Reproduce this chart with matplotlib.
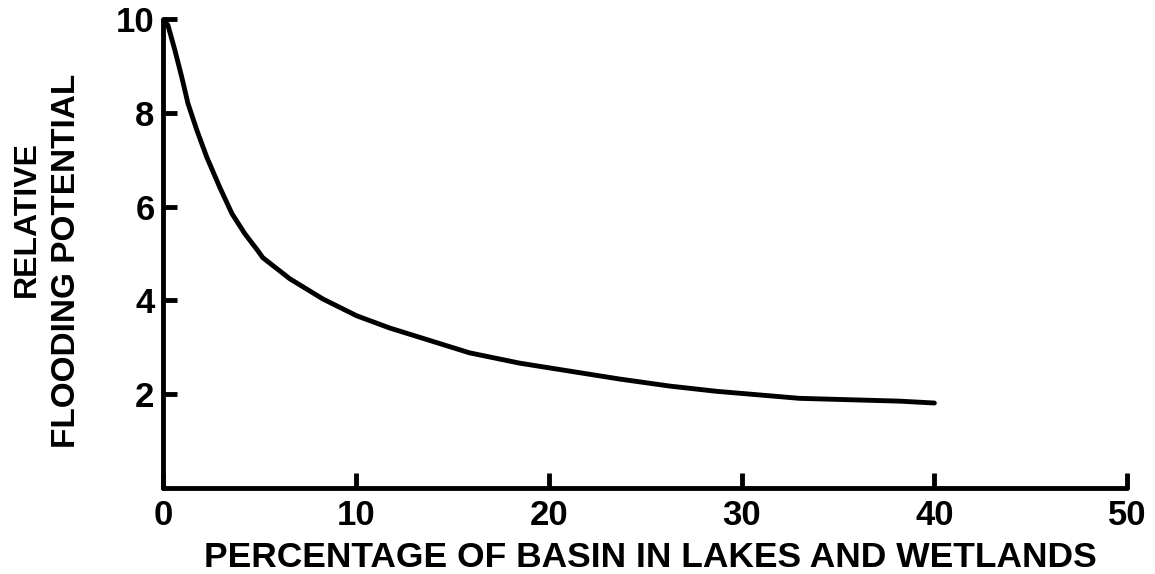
import matplotlib
matplotlib.use("Agg")
import matplotlib.pyplot as plt

# ----------------------
# DATA
# ----------------------
pct_basin = [0.1, 0.26, 0.62, 0.98, 1.3, 1.76, 2.28, 2.95, 3.58, 4.25, 4.92,
             5.18, 6.58, 8.29, 10.05, 11.76, 13.4, 15.9, 18.5, 21.1, 23.7,
             26.3, 28.7, 33.0, 38.2, 40.0]
flood_potential = [9.95, 9.87, 9.34, 8.76, 8.2, 7.63, 7.05, 6.41, 5.85, 5.42, 5.06,
                   4.91, 4.46, 4.03, 3.67, 3.41, 3.2, 2.88, 2.66, 2.49, 2.32,
                   2.17, 2.06, 1.91, 1.85, 1.81]

x_ticks = [0, 10, 20, 30, 40, 50]
y_ticks = [2, 4, 6, 8, 10]

# ----------------------
# STYLE
# ----------------------
plt.rcParams["font.family"] = ["Liberation Sans", "DejaVu Sans"]
plt.rcParams["font.weight"] = "bold"
LW = 3.5

fig = plt.figure(figsize=(11.55, 5.74), dpi=100)
ax = fig.add_axes([0.141, 0.150, 0.835, 0.817])

ax.plot(pct_basin, flood_potential, color="black", lw=LW,
        solid_capstyle="round", solid_joinstyle="round")

ax.set_xlim(0, 50)
ax.set_ylim(0, 10)
ax.set_xticks(x_ticks)
ax.set_yticks(y_ticks)

for side in ["top", "right"]:
    ax.spines[side].set_visible(False)
for side in ["left", "bottom"]:
    ax.spines[side].set_linewidth(LW)
    ax.spines[side].set_capstyle("round")

ax.tick_params(direction="in", length=10, width=LW, labelsize=25)
ax.tick_params(axis="x", length=11, pad=8)
ax.tick_params(axis="y", pad=6)
for lbl in ax.get_xticklabels() + ax.get_yticklabels():
    lbl.set_fontweight("bold")

# axis titles
fig.text(0.563, 0.029, "PERCENTAGE OF BASIN IN LAKES AND WETLANDS",
         ha="center", va="center", fontsize=25.5, fontweight="bold")
fig.text(0.0234, 1 - 219 / 574, "RELATIVE", rotation=90,
         ha="center", va="center", fontsize=23, fontweight="bold")
fig.text(0.058, 1 - 261 / 574, "FLOODING POTENTIAL", rotation=90,
         ha="center", va="center", fontsize=24, fontweight="bold")

fig.savefig("out.png", dpi=100, facecolor="white")
